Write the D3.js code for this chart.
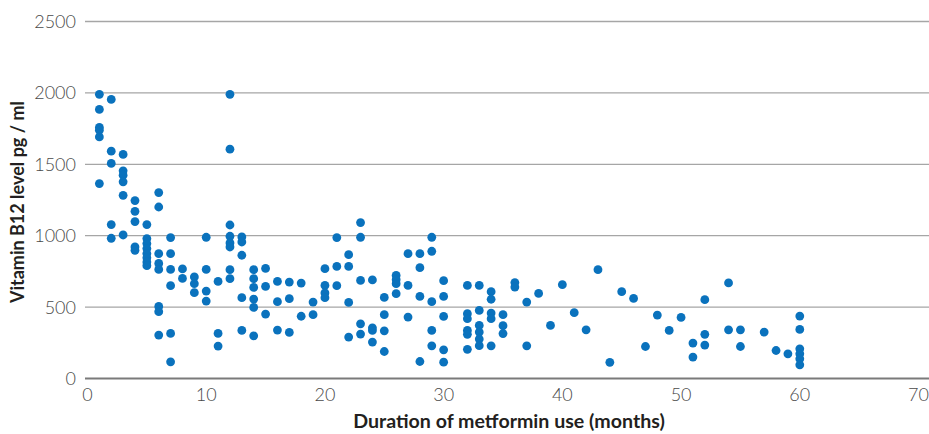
<!DOCTYPE html>
<html>
<head>
<meta charset="utf-8">
<script src="https://cdn.jsdelivr.net/npm/d3@7"></script>
<style>
  body { margin: 0; background: #fff; }
  svg { display: block; font-family: Lato, "Open Sans", sans-serif; }
  .tick-label { fill: #4a4a4a; font-size: 18px; font-weight: 300; }
  .axis-title { fill: #231f20; font-size: 18px; font-weight: bold; }
  .x-title { font-size: 19.6px; }
</style>
</head>
<body>
<script>
// duration of metformin use (months), one entry per patient
var months = [
  1, 1, 1, 1, 1, 1,
  2, 2, 2, 2, 2,
  3, 3, 3, 3, 3, 3,
  4, 4, 4, 4, 4,
  5, 5, 5, 5, 5, 5, 5, 5,
  6, 6, 6, 6, 6, 6, 6, 6,
  7, 7, 7, 7, 7, 7,
  8, 8,
  9, 9, 9,
  10, 10, 10, 10,
  11, 11, 11,
  12, 12, 12, 12, 12, 12, 12, 12,
  13, 13, 13, 13, 13,
  14, 14, 14, 14, 14, 14,
  15, 15, 15,
  16, 16, 16,
  17, 17, 17,
  18, 18,
  19, 19,
  20, 20, 20, 20,
  21, 21, 21,
  22, 22, 22, 22,
  23, 23, 23, 23, 23,
  24, 24, 24, 24,
  25, 25, 25, 25,
  26, 26, 26, 26,
  27, 27, 27,
  28, 28, 28, 28,
  29, 29, 29, 29, 29,
  30, 30, 30, 30, 30,
  32, 32, 32, 32, 32, 32,
  33, 33, 33, 33, 33, 33,
  34, 34, 34, 34, 34,
  35, 35, 35,
  36, 36,
  37, 37,
  38, 39, 40, 41, 42, 43, 44, 45, 46, 47, 48, 49, 50,
  51, 51,
  52, 52, 52,
  54, 54,
  55, 55,
  57, 58, 59,
  60, 60, 60, 60, 60, 60
];

// vitamin B12 level (pg / ml), same order as months
var b12 = [
  1990, 1884, 1758, 1739, 1692, 1365,
  1954, 1592, 1506, 1078, 982,
  1569, 1454, 1424, 1377, 1283, 1005,
  1246, 1171, 1099, 921, 898,
  1078, 980, 945, 910, 875, 845, 815, 790,
  1302, 1201, 874, 806, 764, 505, 468, 304,
  987, 874, 764, 650, 316, 117,
  767, 701,
  711, 664, 601,
  989, 764, 612, 542,
  680, 316, 227,
  1990, 1606, 1075, 996, 949, 921, 762, 699,
  991, 956, 863, 566, 337,
  762, 699, 638, 556, 498, 299,
  771, 645, 451,
  680, 538, 339,
  675, 559, 323,
  668, 436,
  535, 447,
  769, 652, 599, 566,
  987, 785, 650,
  867, 785, 533, 290,
  1092, 989, 687, 383, 311,
  690, 355, 337, 255,
  568, 447, 334, 189,
  722, 692, 664, 594,
  874, 652, 430,
  874, 776, 575, 119,
  989, 891, 538, 337, 229,
  685, 575, 435, 201, 114,
  652, 454, 419, 337, 309, 204,
  652, 477, 372, 325, 276, 230,
  608, 555, 458, 419, 229,
  447, 370, 315,
  672, 640,
  535, 229,
  596, 372, 657, 461, 341, 762, 113, 608, 561, 224, 444, 337, 428,
  248, 150,
  552, 309, 234,
  669, 341,
  341, 224,
  325, 196, 173,
  437, 344, 208, 173, 138, 96
];

var xTicks = [0, 10, 20, 30, 40, 50, 60, 70];
var yTicks = [0, 500, 1000, 1500, 2000, 2500];

var xLabel = "Duration of metformin use (months)";
var yLabel = "Vitamin B12 level pg / ml";

var width = 929, height = 434;

var x = d3.scaleLinear().domain([0, 70]).range([87.5, 918.5]);
var y = d3.scaleLinear().domain([0, 2500]).range([378.5, 21.5]);

var svg = d3.select("body").append("svg")
  .attr("width", width)
  .attr("height", height);

// horizontal grid lines
svg.append("g")
  .selectAll("line")
  .data(yTicks.filter(function (d) { return d > 0; }))
  .enter().append("line")
  .attr("x1", 85)
  .attr("x2", width)
  .attr("y1", function (d) { return y(d); })
  .attr("y2", function (d) { return y(d); })
  .attr("stroke", "#a6a6a6")
  .attr("stroke-width", 1.3);

// y tick labels
svg.append("g")
  .selectAll("text")
  .data(yTicks)
  .enter().append("text")
  .attr("class", "tick-label")
  .attr("x", 76)
  .attr("y", function (d) { return y(d); })
  .attr("dy", "0.36em")
  .attr("text-anchor", "end")
  .text(function (d) { return d; });

// x tick labels
svg.append("g")
  .selectAll("text")
  .data(xTicks)
  .enter().append("text")
  .attr("class", "tick-label")
  .attr("x", function (d) { return x(d); })
  .attr("y", 401)
  .attr("text-anchor", "middle")
  .text(function (d) { return d; });

// points
svg.append("g")
  .selectAll("circle")
  .data(months)
  .enter().append("circle")
  .attr("cx", function (d) { return x(d); })
  .attr("cy", function (d, i) { return y(b12[i]); })
  .attr("r", 4.4)
  .attr("fill", "#0a72bd");

// baseline
svg.append("line")
  .attr("x1", 85)
  .attr("x2", width)
  .attr("y1", y(0))
  .attr("y2", y(0))
  .attr("stroke", "#7a7a7a")
  .attr("stroke-width", 2);

// axis titles
svg.append("text")
  .attr("class", "axis-title x-title")
  .attr("x", 509)
  .attr("y", 428)
  .attr("text-anchor", "middle")
  .text(xLabel);

svg.append("text")
  .attr("class", "axis-title")
  .attr("transform", "translate(24,202) rotate(-90)")
  .attr("text-anchor", "middle")
  .text(yLabel);
</script>
</body>
</html>
